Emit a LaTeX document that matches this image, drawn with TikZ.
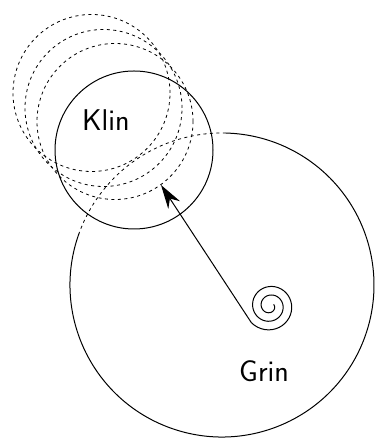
\documentclass[tikz,border=0pt]{standalone}
\usetikzlibrary{calc,arrows.meta}
\begin{document}
\begin{tikzpicture}[x=1pt,y=1pt,
  solid line/.style={line width=1pt},
  trace/.style={line width=0.8pt,dash pattern=on 3pt off 3.5pt},
  lbl/.style={font=\sffamily\fontsize{30}{36}\selectfont,anchor=base west,inner sep=0pt}]
\useasboundingbox (0,0) rectangle (374,438);
\coordinate (G) at (222,153); \coordinate (K) at (134,288);
\coordinate (K1) at (91.5,345); \coordinate (K2) at (103.5,330); \coordinate (K3) at (115,316.5);
\coordinate (T) at (161,253);
% earlier positions of the small disc
\draw[trace] (K1) circle[radius=78.5];
\draw[trace] (K2) circle[radius=78.5];
\draw[trace] (K3) circle[radius=78];
\draw[solid line] (K) circle[radius=79];
% large disc, hidden part dashed
\draw[solid line] ($(G)+(160:152)$) arc[start angle=160,end angle=448.5,radius=152];
\draw[trace] ($(G)+(88.5:152)$) arc[start angle=88.5,end angle=160,radius=152];
% spiral (centre 270,132) and arrow
\draw[solid line,-{Stealth[length=24pt,width=14pt]}] plot[smooth,domain=2.45:0,samples=100]
  ({270+(25-8.6*\x)*cos(221+360*\x)},{132+(25-8.6*\x)*sin(221+360*\x)}) -- (T);
\node[lbl] (klin) at (82,307) {Klin};
\node[lbl] (grin) at (239,56) {Grin};
\end{tikzpicture}
\end{document}
